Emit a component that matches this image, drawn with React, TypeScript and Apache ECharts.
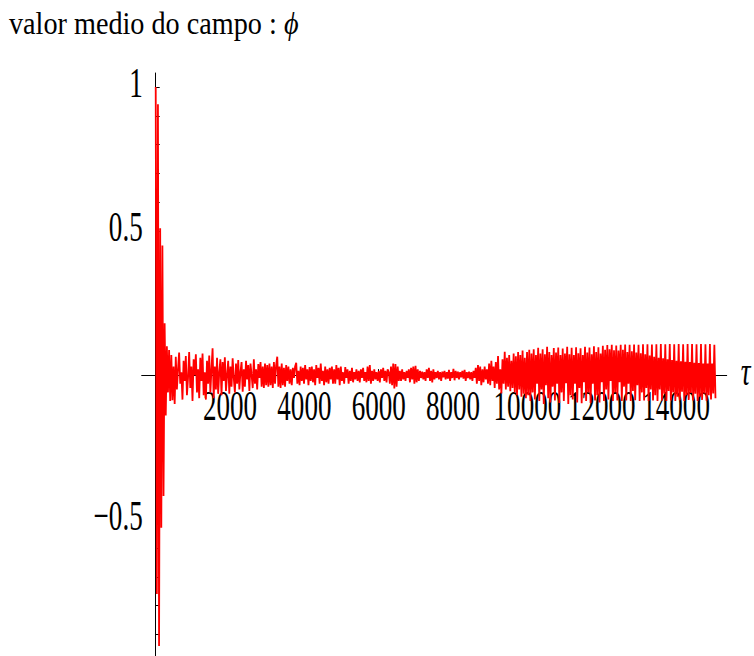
import React, { useEffect, useRef } from 'react';
import * as echarts from 'echarts';

// sampling step of tau (the series is sampled every TAU_STEP from tau = 0)
const TAU_STEP = 30;

// mean field value phi (20 samples per 600 tau)
const phiValues: number[] = [
  1.0, -0.76, 0.94, -0.94, 0.51, -0.53, 0.45, -0.42, 0.18, -0.14, 0.1, -0.06, 0.087, -0.09, 0.07, -0.087, 0.03, -0.1, 0.064, -0.05,
  0.02, 0.078, -0.03, 0.01, -0.085, 0.05, -0.02, 0.066, -0.07, -0.01, 0.08, -0.045, 0.03, -0.09, 0.055, 0.0, 0.072, -0.06, 0.02, -0.08,
  0.06, -0.02, 0.075, -0.07, 0.01, -0.085, 0.05, -0.03, 0.068, -0.06, 0.02, 0.093, -0.08, 0.03, -0.05, 0.06, -0.065, 0.01, 0.055, -0.07,
  0.045, -0.02, 0.062, -0.055, 0.0, 0.05, -0.065, 0.03, -0.04, 0.058, -0.01, -0.06, 0.04, -0.03, 0.052, -0.05, 0.01, 0.045, -0.058, 0.02,
  -0.04, 0.05, -0.015, 0.035, -0.055, 0.04, 0.0, -0.045, 0.055, -0.03, 0.02, -0.05, 0.038, -0.01, 0.045, -0.04, 0.03, -0.045, 0.04, -0.035,
  0.035, -0.04, 0.04, -0.035, 0.03, -0.045, 0.045, -0.03, 0.035, 0.064, -0.04, 0.03, -0.045, 0.04, -0.035, 0.025, -0.04, 0.035, -0.02, 0.03,
  -0.03, 0.02, -0.035, 0.025, -0.01, 0.03, 0.043, -0.03, 0.015, -0.035, 0.03, -0.02, 0.025, -0.03, 0.035, -0.015, 0.02, -0.035, 0.028, -0.02,
  0.03, -0.025, 0.02, -0.035, 0.035, -0.01, 0.025, -0.03, 0.04, -0.02, 0.015, -0.035, 0.03, -0.025, 0.02, -0.03, 0.025, -0.015, 0.03, -0.03,
  0.02, -0.03, 0.035, -0.015, 0.025, -0.035, 0.03, -0.02, 0.01, -0.03, 0.028, -0.01, 0.02, -0.03, 0.015, -0.02, 0.025, -0.025, 0.01, -0.015,
  0.02, -0.02, 0.015, -0.025, 0.02, -0.01, 0.025, -0.02, 0.01, -0.025, 0.03, -0.02, 0.035, -0.03, 0.015, -0.02, 0.02, -0.015, 0.01, -0.02,
  0.015, -0.025, 0.02, -0.01, 0.025, -0.02, 0.015, -0.025, 0.02, 0.01, -0.03, 0.03, -0.035, 0.04, -0.046, 0.038, -0.04, 0.03, -0.02, 0.015,
  -0.02, 0.02, -0.015, 0.01, -0.02, 0.015, -0.01, 0.02, -0.025, 0.025, -0.015, 0.03, -0.03, 0.032, -0.025, 0.02, -0.02, 0.015, -0.01, 0.012,
  -0.015, 0.01, -0.02, 0.02, -0.01, 0.025, -0.02, 0.015, -0.025, 0.02, -0.015, 0.01, -0.01, 0.015, -0.015, 0.01, -0.02, 0.012, -0.008, 0.015,
  -0.015, 0.01, -0.012, 0.018, -0.02, 0.01, -0.01, 0.022, -0.018, 0.015, -0.01, 0.012, -0.015, 0.01, -0.008, 0.015, -0.012, 0.018, -0.02, 0.01,
  -0.01, 0.012, -0.015, 0.01, -0.02, 0.015, -0.01, 0.025, -0.03, 0.035, -0.02, 0.03, -0.035, 0.02, -0.025, 0.03, -0.015, 0.02, -0.03, 0.04,
  -0.035, 0.05, -0.02, 0.03, -0.045, 0.045, -0.03, 0.066, -0.05, 0.02, -0.064, 0.055, -0.03, 0.081, -0.05, 0.06, -0.04, 0.07, -0.056, 0.05,
  -0.045, 0.075, -0.06, 0.065, -0.07, 0.08, -0.05, 0.07, -0.075, 0.085, -0.065, 0.06, -0.08, 0.08, -0.07, 0.088, -0.09, 0.075, -0.06, 0.09,
  -0.085, 0.07, -0.03, 0.095, -0.09, 0.075, -0.05, 0.09, -0.1, 0.072, -0.035, 0.098, -0.08, 0.08, -0.095, 0.07, -0.04, 0.094, -0.088, 0.078,
  -0.03, 0.096, -0.097, 0.07, -0.06, 0.092, -0.09, 0.075, -0.028, 0.098, -0.1, 0.072, -0.07, 0.095, -0.085, 0.07, -0.03, 0.097, -0.095, 0.076,
  -0.045, 0.093, -0.098, 0.07, -0.025, 0.098, -0.09, 0.078, -0.06, 0.096, -0.097, 0.072, -0.03, 0.1, -0.088, 0.08, -0.07, 0.097, -0.095, 0.075,
  -0.025, 0.102, -0.09, 0.088, -0.05, 0.104, -0.085, 0.09, -0.02, 0.105, -0.09, 0.086, -0.06, 0.103, -0.088, 0.085, -0.025, 0.105, -0.09, 0.088,
  -0.04, 0.106, -0.088, 0.08, -0.03, 0.105, -0.09, 0.083, -0.055, 0.106, -0.087, 0.078, -0.035, 0.105, -0.09, 0.076, -0.06, 0.107, -0.088, 0.072,
  -0.045, 0.107, -0.09, 0.068, -0.05, 0.106, -0.088, 0.064, -0.07, 0.107, -0.09, 0.06, -0.05, 0.108, -0.088, 0.058, -0.065, 0.107, -0.09, 0.055,
  -0.055, 0.108, -0.088, 0.052, -0.06, 0.107, -0.09, 0.05, -0.075, 0.108, -0.087, 0.048, -0.058, 0.107, -0.09, 0.046, -0.07, 0.108, -0.086, 0.045,
  -0.062, 0.108, -0.088, 0.043, -0.065, 0.107, -0.09, 0.042, -0.075, 0.108, -0.086, 0.04, -0.064, 0.107, -0.089, 0.04, -0.07, 0.108, -0.085, 0.04,
  -0.064, 0.105, -0.08,
];

// axis extents
const X_MIN = -377;
const X_MAX = 15362;
const Y_MIN = -0.975;
const Y_MAX = 1.0486;

// ticks and tick labels
const xTickValues = [2000, 4000, 6000, 8000, 10000, 12000, 14000];
const xTickLabels = ['2000', '4000', '6000', '8000', '10000', '12000', '14000'];
const xMinorTickValues = [500, 1000, 1500, 2500, 3000, 3500, 4500, 5000, 5500, 6500, 7000, 7500, 8500, 9000, 9500, 10500, 11000, 11500, 12500, 13000, 13500, 14500, 15000];
const yTickValues = [-0.9, -0.8, -0.7, -0.6, -0.5, -0.4, -0.3, -0.2, -0.1, 0.1, 0.2, 0.3, 0.4, 0.5, 0.6, 0.7, 0.8, 0.9, 1.0];
const yLabelValues = [1, 0.5, -0.5];
const yLabelTexts = ['1', '0.5', '\u22120.5'];

const titleText = 'valor medio do campo : ';
const titleSymbol = '\u03d5';
const xAxisName = '\u03c4';

const FONT = 'Liberation Serif';
const LABEL_SIZE = 43;
const LABEL_SCALE = 0.63;
const TITLE_SIZE = 31;
const TITLE_SCALE = 0.91;

export default function App() {
  const ref = useRef<HTMLDivElement>(null);

  useEffect(() => {
    if (!ref.current) return;
    const chart = echarts.init(ref.current, undefined, { renderer: 'svg' });
    const seriesData = phiValues.map((v, i) => [i * TAU_STEP, v]);

    chart.setOption({
      animation: false,
      backgroundColor: '#ffffff',
      grid: { left: 141.7, right: 27.3, top: 73, bottom: 0, containLabel: false },
      xAxis: [
        {
          type: 'value',
          min: X_MIN,
          max: X_MAX,
          position: 'bottom',
          axisLine: { show: true, onZero: true, onZeroAxisIndex: 0, lineStyle: { color: '#000', width: 1 } },
          axisTick: { show: true, inside: true, length: 6, customValues: xTickValues, lineStyle: { color: '#000', width: 1 } },
          axisLabel: { show: false },
          splitLine: { show: false },
        },
        {
          type: 'value',
          min: X_MIN,
          max: X_MAX,
          position: 'bottom',
          axisLine: { show: false, onZero: true, onZeroAxisIndex: 0 },
          axisTick: { show: true, inside: true, length: 3, customValues: xMinorTickValues, lineStyle: { color: '#555', width: 1 } },
          axisLabel: { show: false },
          splitLine: { show: false },
        },
      ],
      yAxis: {
        type: 'value',
        min: Y_MIN,
        max: Y_MAX,
        position: 'left',
        axisLine: { show: true, onZero: true, lineStyle: { color: '#000', width: 1 } },
        axisTick: { show: true, inside: true, length: 4, customValues: yTickValues, lineStyle: { color: '#000', width: 1 } },
        axisLabel: { show: false },
        splitLine: { show: false },
      },
      series: [
        {
          type: 'line',
          data: seriesData,
          xAxisIndex: 0,
          yAxisIndex: 0,
          showSymbol: false,
          symbol: 'none',
          silent: true,
          lineStyle: { color: '#ff0000', width: 1.8 },
        },
      ],
    });

    const textStyle = (text: string, align: string, italic = false) => ({
      text,
      fontFamily: FONT,
      fontSize: LABEL_SIZE,
      fontStyle: italic ? 'italic' : 'normal',
      fill: '#000',
      align,
      textAlign: align,
      verticalAlign: 'middle',
      textVerticalAlign: 'middle',
    });

    const elements: any[] = [];
    // title
    elements.push({
      type: 'text',
      x: 9,
      y: 24,
      scaleX: TITLE_SCALE,
      style: {
        text: titleText + '{phi|' + titleSymbol + '}',
        fontFamily: FONT,
        fontSize: TITLE_SIZE,
        fill: '#000',
        align: 'left',
        textAlign: 'left',
        verticalAlign: 'middle',
        textVerticalAlign: 'middle',
        rich: {
          phi: { fontFamily: FONT, fontSize: TITLE_SIZE, fontStyle: 'italic', fill: '#000' },
        },
      },
    });
    xTickValues.forEach((v, i) => {
      const p = chart.convertToPixel({ gridIndex: 0 }, [v, 0]) as number[];
      elements.push({
        type: 'text',
        x: p[0],
        y: p[1] + 31,
        scaleX: LABEL_SCALE,
        style: textStyle(xTickLabels[i], 'center'),
      });
    });
    yLabelValues.forEach((v, i) => {
      const p = chart.convertToPixel({ gridIndex: 0 }, [0, v]) as number[];
      elements.push({
        type: 'text',
        x: p[0] - 13,
        y: p[1] - 4,
        scaleX: LABEL_SCALE,
        style: textStyle(yLabelTexts[i], 'right'),
      });
    });
    const end = chart.convertToPixel({ gridIndex: 0 }, [X_MAX, 0]) as number[];
    elements.push({
      type: 'text',
      x: end[0] + 14,
      y: end[1] - 4,
      scaleX: LABEL_SCALE,
      style: textStyle(xAxisName, 'left', true),
    });

    chart.setOption({ graphic: { elements } });

    return () => {
      chart.dispose();
    };
  }, []);

  return (
    <div
      ref={ref}
      style={{ position: 'fixed', left: 0, top: 0, width: 754, height: 656, background: '#fff' }}
    />
  );
}
